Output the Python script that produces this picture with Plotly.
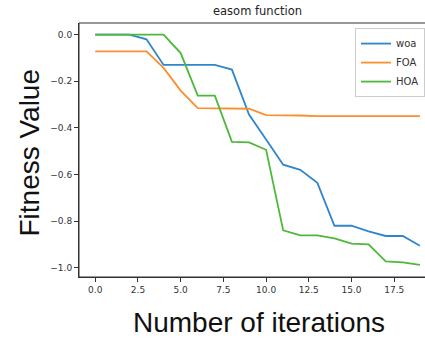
import plotly.graph_objects as go

iterations = list(range(20))
woa = [0.0, 0.0, 0.0, -0.02, -0.13, -0.13, -0.13, -0.13, -0.15, -0.343,
       -0.45, -0.558, -0.58, -0.636, -0.82, -0.82, -0.844, -0.864, -0.864, -0.906]
foa = [-0.072, -0.072, -0.072, -0.072, -0.143, -0.24, -0.315, -0.315, -0.315, -0.318,
       -0.345, -0.345, -0.347, -0.35, -0.35, -0.35, -0.35, -0.35, -0.35, -0.35]
hoa = [0.0, 0.0, 0.0, 0.0, 0.0, -0.079, -0.262, -0.262, -0.46, -0.462,
       -0.494, -0.84, -0.861, -0.861, -0.874, -0.897, -0.9, -0.973, -0.977, -0.988]
series_names = ["woa", "FOA", "HOA"]
colors = ["#2f86cc", "#fb8f2e", "#4db83a"]
x_ticks = [0, 2.5, 5, 7.5, 10, 12.5, 15, 17.5]
y_ticks = [0.0, -0.2, -0.4, -0.6, -0.8, -1.0]

fig = go.Figure()
for name, vals, c in zip(series_names, [woa, foa, hoa], colors):
    fig.add_trace(go.Scatter(x=iterations, y=vals, mode="lines", name=name,
                             line=dict(color=c, width=1.8)))

tickfont = dict(family="DejaVu Sans", size=9, color="#333333")
fig.update_layout(
    width=425, height=341,
    margin=dict(l=79, r=0, t=23, b=64),
    paper_bgcolor="white", plot_bgcolor="white",
    showlegend=True,
    legend=dict(x=1.0, y=0.98, xanchor="right", yanchor="top",
                bgcolor="white", bordercolor="#cccccc", borderwidth=1,
                font=dict(family="DejaVu Sans", size=10, color="#333333"),
                tracegroupgap=0, itemwidth=30),
    xaxis=dict(range=[-0.95, 19.3], tickvals=x_ticks, tickformat=".1f",
               showgrid=False, zeroline=False, showline=True, linecolor="#333333",
               ticks="outside", ticklen=4, tickcolor="#333333", tickfont=tickfont),
    yaxis=dict(range=[-1.04, 0.05], tickvals=y_ticks, tickformat=".1f",
               showgrid=False, zeroline=False, showline=True, linecolor="#333333",
               ticks="outside", ticklen=4, tickcolor="#333333", tickfont=tickfont),
    shapes=[dict(type="rect", xref="paper", yref="paper", x0=0, x1=1.1, y0=0, y1=1,
                 line=dict(color="#333333", width=1))],
    annotations=[
        dict(text="easom function", xref="paper", yref="paper", x=0.516, y=1.0,
             xanchor="center", yanchor="bottom", yshift=3, showarrow=False,
             font=dict(family="DejaVu Sans", size=11.5, color="#222222")),
        dict(text="Fitness Value", xref="paper", yref="paper", x=-0.1416, y=0.49,
             xanchor="center", yanchor="middle", textangle=-90, showarrow=False,
             font=dict(family="Liberation Sans", size=28, color="#111111")),
        dict(text="Number of iterations", xref="paper", yref="paper", x=0.52, y=-0.181,
             xanchor="center", yanchor="middle", showarrow=False,
             font=dict(family="Liberation Sans", size=28, color="#111111")),
    ],
)

fig.write_html("out.html", config={"displayModeBar": False},
               post_script="document.body.style.margin='0';document.body.style.padding='0';")
